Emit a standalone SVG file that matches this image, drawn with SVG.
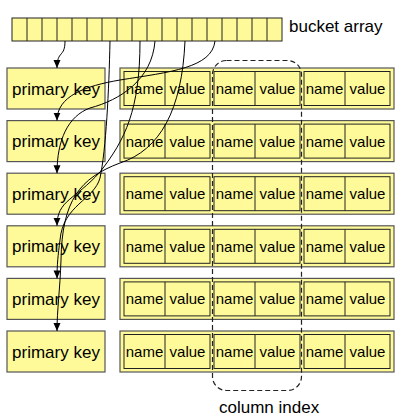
<svg xmlns="http://www.w3.org/2000/svg" width="400" height="419" viewBox="0 0 400 419">
<style>
.y{fill:#FFFA99}
.pk{fill:#FFFA99;stroke:#555;stroke-width:1.2}
.outer{fill:#FFFA99;stroke:#555;stroke-width:1.2}
.cell{fill:#FFFA99;stroke:#222;stroke-width:1}
.div{stroke:#222;stroke-width:1}
.t17{font-family:"Liberation Sans",Arial,sans-serif;font-size:17px;fill:#000}
.t15{font-family:"Liberation Sans",Arial,sans-serif;font-size:15px;fill:#000;text-anchor:middle}
.pkt{font-family:"Liberation Sans",Arial,sans-serif;font-size:17px;fill:#000;text-anchor:middle}
.con{fill:none;stroke:#000;stroke-width:1;marker-end:url(#ah)}
</style>
<defs>
<marker id="ah" markerUnits="userSpaceOnUse" markerWidth="9" markerHeight="8" refX="8" refY="3.5" orient="auto">
<path d="M0,0 L8,3.5 L0,7 z" fill="#000"/>
</marker>
<g id="pair">
<rect class="cell" x="0" y="0" width="86" height="34"/>
<line class="div" x1="41" y1="0" x2="41" y2="34"/>
<text class="t15" x="20.5" y="22.5">name</text>
<text class="t15" x="63.5" y="22.5">value</text>
</g>
<g id="record">
<rect class="outer" x="120" y="0" width="274" height="41"/>
<use href="#pair" x="124" y="3.5"/>
<use href="#pair" x="214" y="3.5"/>
<use href="#pair" x="304" y="3.5"/>
</g>
<g id="pkbox">
<rect class="pk" x="7" y="0" width="98" height="41"/>
<text class="pkt" x="56" y="26.5">primary key</text>
</g>
</defs>

<g id="bucket-array">
<rect class="cell" x="12" y="18" width="270" height="23"/>
<path class="div" d="M27,18v23M42,18v23M57,18v23M72,18v23M87,18v23M102,18v23M117,18v23M132,18v23M147,18v23M162,18v23M177,18v23M192,18v23M207,18v23M222,18v23M237,18v23M252,18v23M267,18v23"/>
<text class="t17" x="289" y="32">bucket array</text>
</g>

<g id="pk1"><use href="#pkbox" y="68"/></g>
<g id="pk2"><use href="#pkbox" y="120.6"/></g>
<g id="pk3"><use href="#pkbox" y="173.2"/></g>
<g id="pk4"><use href="#pkbox" y="225.8"/></g>
<g id="pk5"><use href="#pkbox" y="278.4"/></g>
<g id="pk6"><use href="#pkbox" y="331"/></g>

<g id="rec1"><use href="#record" y="68"/></g>
<g id="rec2"><use href="#record" y="120.6"/></g>
<g id="rec3"><use href="#record" y="173.2"/></g>
<g id="rec4"><use href="#record" y="225.8"/></g>
<g id="rec5"><use href="#record" y="278.4"/></g>
<g id="rec6"><use href="#record" y="331"/></g>

<g id="column-index">
<rect x="212.5" y="60.5" width="89" height="330" rx="14" fill="none" stroke="#222" stroke-width="1.2" stroke-dasharray="5,3"/>
<text class="t17" x="219" y="413">column index</text>
</g>

<g id="connectors">
<path class="con" d="M65,41 C65,58 57,50 57,68"/>
<path class="con" d="M215,41 C212,68 170,72 120,80 C85,86 57,96 57,120.6"/>
<path class="con" d="M155,41 C152,80 120,100 90,108 C68,116 57,140 57,173.2"/>
<path class="con" d="M140,41 C140,110 125,140 100,172 C75,200 57,200 57,225.8"/>
<path class="con" d="M110,41 C109,90 106,150 100,178 C94,200 63,205 60,240 C58,255 57,265 57,278.4"/>
<path class="con" d="M185,41 C182,110 160,150 120,163 C80,178 62,200 61,260 C60,290 57,310 57,331"/>
</g>
</svg>
